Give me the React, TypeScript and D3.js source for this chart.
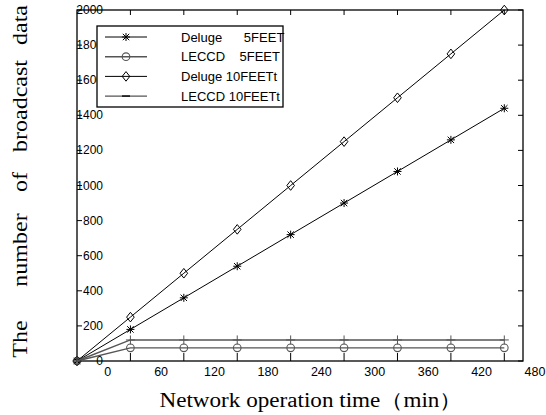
import React from 'react'
import * as d3 from 'd3'

// x positions of the samples (minutes) and the four series
const times = [-30, 30, 90, 150, 210, 270, 330, 390, 450]
const delugeFive = [0, 180, 360, 540, 720, 900, 1080, 1260, 1440]
const leccdFive = [0, 75, 75, 75, 75, 75, 75, 75, 75]
const delugeTen = [0, 250, 500, 750, 1000, 1250, 1500, 1750, 2000]
const leccdTen = [0, 120, 120, 120, 120, 120, 120, 120, 120]

const xTickLabels = [0, 60, 120, 180, 240, 300, 360, 420, 480]
const xTickMarks = [30, 90, 150, 210, 270, 330, 390, 450]
const yTicks = [0, 200, 400, 600, 800, 1000, 1200, 1400, 1600, 1800, 2000]
const legendLabels = ['Deluge      5FEET', 'LECCD    5FEET', 'Deluge 10FEETt', 'LECCD 10FEETt']
const yLabelWords = ['The', 'number', 'of', 'broadcast', 'data']
const yLabelCenters = [339, 250, 182, 106, 25]

const width = 546
const height = 415
const sans = '"Liberation Sans", Arial, sans-serif'
const serif = '"Liberation Serif", "Times New Roman", serif'

function Marker({ kind, x, y, color }: { kind: string; x: number; y: number; color: string }) {
    if (kind === 'star') {
        return (
            <g stroke={color} strokeWidth={1}>
                <line x1={x} y1={y - 4} x2={x} y2={y + 4} />
                <line x1={x - 4} y1={y} x2={x + 4} y2={y} />
                <line x1={x - 3.2} y1={y - 3.2} x2={x + 3.2} y2={y + 3.2} />
                <line x1={x - 3.2} y1={y + 3.2} x2={x + 3.2} y2={y - 3.2} />
            </g>
        )
    }
    if (kind === 'circle') {
        return <circle cx={x} cy={y} r={3.8} fill="none" stroke={color} strokeWidth={1.1} />
    }
    if (kind === 'diamond') {
        return <path d={`M${x},${y - 4.8}L${x + 3.8},${y}L${x},${y + 4.8}L${x - 3.8},${y}Z`} fill="none" stroke={color} strokeWidth={1} />
    }
    if (kind === 'plus') {
        return (
            <g stroke={color} strokeWidth={1}>
                <line x1={x} y1={y - 4.5} x2={x} y2={y + 4.5} />
                <line x1={x - 4.5} y1={y} x2={x + 4.5} y2={y} />
            </g>
        )
    }
    return <line x1={x - 4} y1={y} x2={x + 4} y2={y} stroke="#222" strokeWidth={1.8} />
}

export default function App() {
    const x = d3.scaleLinear().domain([-30, 471]).range([77, 523])
    const y = d3.scaleLinear().domain([0, 2000]).range([361, 10])

    const series = [
        { values: delugeFive, marker: 'star', color: '#000', width: 1 },
        { values: leccdFive, marker: 'circle', color: '#555', width: 1.4 },
        { values: delugeTen, marker: 'diamond', color: '#000', width: 1 },
        { values: leccdTen, marker: 'plus', color: '#555', width: 1.4 }
    ]

    const line = d3
        .line<number>()
        .x((d, i) => x(times[i]))
        .y(d => y(d))

    const [x0, x1] = x.range()
    const [y0, y1] = y.range()

    return (
        <svg width={width} height={height} style={{ position: 'absolute', left: 0, top: 0, background: '#fff' }}>
            {/* axes box */}
            <rect x={x0} y={y1} width={x1 - x0} height={y0 - y1} fill="none" stroke="#000" strokeWidth={1.3} />
            {xTickMarks.map(t => (
                <g key={t} stroke="#000" strokeWidth={1}>
                    <line x1={x(t)} x2={x(t)} y1={y0} y2={y0 - 8} />
                    <line x1={x(t)} x2={x(t)} y1={y1} y2={y1 + 5} />
                </g>
            ))}
            {yTicks.map(t => (
                <g key={t} stroke="#000" strokeWidth={1}>
                    <line x1={x0} x2={x0 + 5} y1={y(t)} y2={y(t)} />
                    <line x1={x1} x2={x1 - 5} y1={y(t)} y2={y(t)} />
                </g>
            ))}
            {yTicks.map(t => (
                <text key={t} x={103} y={y(t)} textAnchor="end" dominantBaseline="central" fontFamily={sans} fontSize={12} fill="#000">
                    {t}
                </text>
            ))}
            {xTickLabels.map(t => (
                <text key={t} x={x(t) + 4} y={372} textAnchor="middle" dominantBaseline="central" fontFamily={sans} fontSize={12.5} fill="#000">
                    {t}
                </text>
            ))}

            {/* series */}
            {series.map((s, si) => (
                <g key={si}>
                    <path d={line(s.values) || ''} fill="none" stroke={s.color} strokeWidth={s.width} />
                    {s.values.map((v, i) => (
                        <Marker key={i} kind={s.marker} x={x(times[i])} y={y(v)} color={s.color} />
                    ))}
                </g>
            ))}

            {/* legend */}
            <rect x={97} y={26} width={186} height={81} fill="#fff" stroke="#000" strokeWidth={1.3} />
            {legendLabels.map((label, i) => {
                const s = series[i]
                const cy = 37 + i * 19.7
                return (
                    <g key={label}>
                        <line x1={105} x2={147} y1={cy} y2={cy} stroke={s.color} strokeWidth={s.width} />
                        <Marker kind={i === 3 ? 'dot' : s.marker} x={126} y={cy} color={s.color} />
                        <text x={181} y={cy} dominantBaseline="central" fontFamily={sans} fontSize={13} fill="#000" style={{ whiteSpace: 'pre' }}>
                            {label}
                        </text>
                    </g>
                )
            })}

            {/* axis titles */}
            <text x={311} y={407} textAnchor="middle" fontFamily={serif} fontSize={20} textLength={303} lengthAdjust="spacingAndGlyphs" fill="#000">
                Network operation time（min）
            </text>
            {yLabelWords.map((w, i) => (
                <text
                    key={w}
                    transform={`translate(20, ${yLabelCenters[i]}) rotate(-90) scale(1.2, 1)`}
                    textAnchor="middle"
                    dominantBaseline="central"
                    fontFamily={serif}
                    fontSize={20}
                    fill="#000"
                >
                    {w}
                </text>
            ))}
        </svg>
    )
}
